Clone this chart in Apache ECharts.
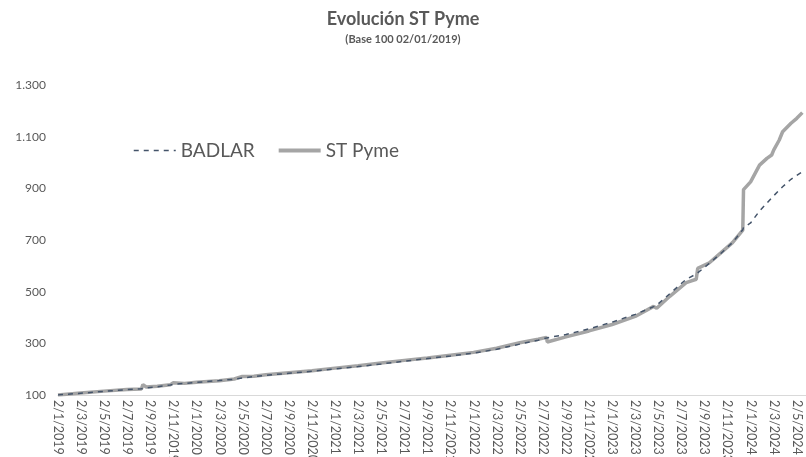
<!DOCTYPE html>
<html>
<head>
<meta charset="utf-8">
<script src="https://cdn.jsdelivr.net/npm/echarts@6/dist/echarts.min.js"></script>
<style>html,body{margin:0;padding:0;background:#fff}#c{width:806px;height:457px}</style>
</head>
<body>
<div id="c"></div>
<script>
const dates = [
 '2019-01-02','2019-03-01','2019-05-01','2019-07-01','2019-08-09','2019-08-13','2019-08-22','2019-09-20',
 '2019-10-25','2019-11-01','2019-12-01','2020-01-02','2020-03-01','2020-04-10','2020-05-01','2020-06-01',
 '2020-07-02','2020-09-02','2020-11-02','2021-01-02','2021-03-02','2021-05-02','2021-07-02','2021-09-02',
 '2021-11-02','2022-01-02','2022-03-02','2022-05-02','2022-06-20','2022-07-12','2022-07-14','2022-09-02',
 '2022-11-02','2023-01-02','2023-03-02','2023-04-20','2023-04-28','2023-06-02','2023-07-15','2023-08-11',
 '2023-08-15','2023-09-15','2023-10-15','2023-11-15','2023-12-12','2023-12-14','2024-01-02','2024-01-26',
 '2024-02-14','2024-02-26','2024-03-02','2024-03-17','2024-03-26','2024-04-17','2024-05-02','2024-05-17'
];
const stPyme = [
 100,108,115,121,123,140,131,134,
 140,147,145,149,155,162,172,173,
 178,186,194,204,213,224,234,243,
 254,265,281,302,316,323,305,325,
 348,373,404,443,436,482,535,548,
 590,612,650,690,738,895,925,990,
 1016,1029,1048,1087,1119,1152,1171,1193
];
const badlar = [
 100,107,114,121,124,125,127,132,
 139,141,145,149,156,161,166,171,
 176,184,192,201,210,220,231,241,
 251,262,277,297,312,321,322,334,
 356,382,412,442,448,492,548,568,
 575,610,648,690,740,748,766,812,
 843,863,871,893,906,935,950,964
];
const seriesNames = ['BADLAR', 'ST Pyme'];
const yTicks = [100, 300, 500, 700, 900, 1100, 1300];

function monthIndex(s) {
  const [y, m, d] = s.split('-').map(Number);
  const dim = new Date(y, m, 0).getDate();
  return (y - 2019) * 12 + (m - 1) + (d - 2) / dim;
}
function fmtThousands(v) {
  return String(v).replace(/\B(?=(\d{3})+(?!\d))/g, '.');
}
const xs = dates.map(monthIndex);
const txt = '#595959';
const font = 'Lato, "Open Sans", sans-serif';
const cBadlar = '#44546A', cSt = '#A5A5A5';

const chart = echarts.init(document.getElementById('c'));
chart.setOption({
  animation: false,
  textStyle: { fontFamily: font },
  title: {
    text: 'Evolución ST Pyme',
    subtext: '(Base 100 02/01/2019)',
    left: 'center', top: 5, itemGap: 6,
    textStyle: { fontSize: 18, fontWeight: 'bold', color: txt, fontFamily: font },
    subtextStyle: { fontSize: 11, fontWeight: 'bold', color: txt, fontFamily: font }
  },
  legend: {
    left: 133, top: 141, padding: 0,
    itemWidth: 42, itemHeight: 14, itemGap: 22,
    itemStyle: { opacity: 0 },
    textStyle: { fontSize: 19, color: txt, fontFamily: font },
    data: [
      { name: seriesNames[0], lineStyle: { color: cBadlar, width: 1.5, type: [5, 5] } },
      { name: seriesNames[1], lineStyle: { color: cSt, width: 4, type: 'solid' } }
    ]
  },
  grid: { left: 58, right: 0, top: 85, bottom: 62, outerBoundsMode: 'none' },
  xAxis: {
    type: 'value', min: 0, max: 64.8, interval: 2,
    axisLine: { show: true, lineStyle: { color: '#D9D9D9', width: 1 } },
    axisTick: { show: false },
    splitLine: { show: false },
    axisLabel: {
      rotate: -90, fontSize: 12.5, color: txt, margin: 5, fontFamily: font,
      showMaxLabel: false,
      formatter: v => {
        if (Math.abs(v - Math.round(v)) > 1e-6) return '';
        const r = Math.round(v);
        return '2/' + (r % 12 + 1) + '/' + (2019 + Math.floor(r / 12));
      }
    }
  },
  yAxis: {
    type: 'value', min: yTicks[0], max: yTicks[yTicks.length - 1], interval: 200,
    axisLine: { show: false }, axisTick: { show: false }, splitLine: { show: false },
    axisLabel: { fontSize: 12, color: txt, margin: 12, fontFamily: font, formatter: v => fmtThousands(v) }
  },
  series: [
    {
      name: seriesNames[0], type: 'line', symbol: 'none', z: 3,
      lineStyle: { color: cBadlar, width: 1.5, type: [5, 5] },
      itemStyle: { color: cBadlar },
      data: xs.map((x, i) => [x, badlar[i]])
    },
    {
      name: seriesNames[1], type: 'line', symbol: 'none', z: 2,
      lineStyle: { color: cSt, width: 3.5 },
      itemStyle: { color: cSt },
      data: xs.map((x, i) => [x, stPyme[i]])
    }
  ]
});
</script>
</body>
</html>
